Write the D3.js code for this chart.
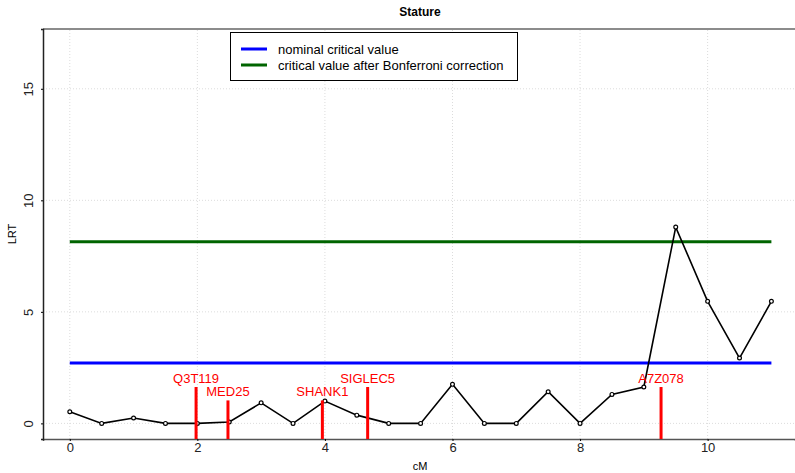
<!DOCTYPE html>
<html>
<head>
<meta charset="utf-8">
<script src="https://cdn.jsdelivr.net/npm/d3@7"></script>
<style>
  body { margin: 0; background: #fff; }
  svg { display: block; font-family: "Liberation Sans", Arial, sans-serif; }
</style>
</head>
<body>
<div id="chart"></div>
<script>
const width = 795;
const height = 473;

// LRT profile along the map
const positions = [0, 0.5, 1, 1.5, 2, 2.5, 3, 3.5, 4, 4.5, 5, 5.5, 6, 6.5, 7, 7.5, 8, 8.5, 9, 9.5, 10, 10.5, 11];
const lrt = [0.52, 0, 0.24, 0, 0, 0.06, 0.92, 0, 1.0, 0.37, 0, 0, 1.75, 0, 0, 1.42, 0, 1.30, 1.63, 8.80, 5.47, 2.93, 5.47];

// thresholds
const thresholdNames = ["nominal critical value", "critical value after Bonferroni correction"];
const thresholdValues = [2.71, 8.14];
const thresholdColors = ["#0000ff", "#006400"];

// candidate genes
const geneNames = ["Q3T119", "MED25", "SHANK1", "SIGLEC5", "A7Z078"];
const genePos = [1.98, 2.48, 3.96, 4.67, 9.27];
const geneHeight = [1.63, 1.03, 1.03, 1.63, 1.63];

const xTicks = [0, 2, 4, 6, 8, 10];
const yTicks = [0, 5, 10, 15];

const margin = { top: 29, right: 0, bottom: 34, left: 43 };

const x = d3.scaleLinear().domain([-0.42, 11.37]).range([margin.left, width - margin.right]);
const y = d3.scaleLinear().domain([-0.7, 17.68]).range([height - margin.bottom, margin.top]);

const svg = d3.select("#chart").append("svg")
    .attr("width", width)
    .attr("height", height);

// grid
const grid = svg.append("g").attr("stroke", "#dcdcdc").attr("stroke-dasharray", "1,2").attr("stroke-width", 1);
grid.selectAll("line.v").data(xTicks).enter().append("line")
    .attr("x1", d => x(d)).attr("x2", d => x(d))
    .attr("y1", y.range()[0]).attr("y2", y.range()[1]);
grid.selectAll("line.h").data(yTicks).enter().append("line")
    .attr("x1", x.range()[0]).attr("x2", x.range()[1])
    .attr("y1", d => y(d)).attr("y2", d => y(d));

// frame (top line + axes)
svg.append("line")
    .attr("x1", margin.left).attr("x2", width)
    .attr("y1", margin.top).attr("y2", margin.top)
    .attr("stroke", "#666").attr("stroke-width", 1.5);

const xAxis = svg.append("g")
    .attr("transform", `translate(0,${height - margin.bottom})`)
    .call(d3.axisBottom(x).tickValues(xTicks).tickSize(2).tickPadding(2));
const yAxis = svg.append("g")
    .attr("transform", `translate(${margin.left},0)`)
    .call(d3.axisLeft(y).tickValues(yTicks).tickSize(2).tickPadding(6));

xAxis.select(".domain").attr("stroke", "#555").attr("stroke-width", 1.5);
yAxis.select(".domain").attr("stroke", "#222").attr("stroke-width", 1.5);
xAxis.selectAll("text").attr("font-size", 13).attr("fill", "#222");
yAxis.selectAll(".tick text")
    .attr("font-size", 13).attr("fill", "#222")
    .attr("text-anchor", "middle")
    .attr("transform", "translate(-15,0) rotate(-90)")
    .attr("x", 0).attr("y", 0).attr("dy", "0.35em");

// thresholds
svg.append("g").selectAll("line").data(thresholdValues).enter().append("line")
    .attr("x1", x(0)).attr("x2", x(11))
    .attr("y1", d => y(d)).attr("y2", d => y(d))
    .attr("stroke", (d, i) => thresholdColors[i])
    .attr("stroke-width", 3);

// LRT line
const pts = positions.map((p, i) => ({ p: p, v: lrt[i] }));
svg.append("path")
    .datum(pts)
    .attr("fill", "none")
    .attr("stroke", "#000")
    .attr("stroke-width", 1.6)
    .attr("d", d3.line().x(d => x(d.p)).y(d => y(d.v)));

svg.append("g").selectAll("circle").data(pts).enter().append("circle")
    .attr("cx", d => x(d.p)).attr("cy", d => y(d.v))
    .attr("r", 1.9)
    .attr("fill", "#fff")
    .attr("stroke", "#000")
    .attr("stroke-width", 1.2);

// genes
const genes = svg.append("g");
genes.selectAll("line").data(geneNames).enter().append("line")
    .attr("x1", (d, i) => x(genePos[i])).attr("x2", (d, i) => x(genePos[i]))
    .attr("y1", y(y.domain()[0])).attr("y2", (d, i) => y(geneHeight[i]))
    .attr("stroke", "#ff0000").attr("stroke-width", 3);
genes.selectAll("text").data(geneNames).enter().append("text")
    .attr("x", (d, i) => x(genePos[i]))
    .attr("y", (d, i) => y(geneHeight[i]) - 4)
    .attr("text-anchor", "middle")
    .attr("font-size", 13)
    .attr("fill", "#ff0000")
    .text(d => d);

// legend
const legend = svg.append("g");
legend.append("rect")
    .attr("x", 230.5).attr("y", 32.5).attr("width", 287).attr("height", 48)
    .attr("fill", "#fff").attr("stroke", "#000").attr("stroke-width", 1);
thresholdNames.forEach((name, i) => {
    legend.append("line")
        .attr("x1", 241).attr("x2", 267)
        .attr("y1", 49 + i * 16).attr("y2", 49 + i * 16)
        .attr("stroke", thresholdColors[i]).attr("stroke-width", 3);
    legend.append("text")
        .attr("x", 278).attr("y", 49 + i * 16).attr("dy", "0.35em")
        .attr("font-size", 13).attr("fill", "#000")
        .text(name);
});

// titles
svg.append("text")
    .attr("x", 420).attr("y", 16)
    .attr("text-anchor", "middle")
    .attr("font-size", 12).attr("font-weight", "bold")
    .text("Stature");
svg.append("text")
    .attr("x", 420).attr("y", 470)
    .attr("text-anchor", "middle")
    .attr("font-size", 11)
    .text("cM");
svg.append("text")
    .attr("transform", "translate(16,234) rotate(-90)")
    .attr("text-anchor", "middle")
    .attr("font-size", 11)
    .text("LRT");
</script>
</body>
</html>
